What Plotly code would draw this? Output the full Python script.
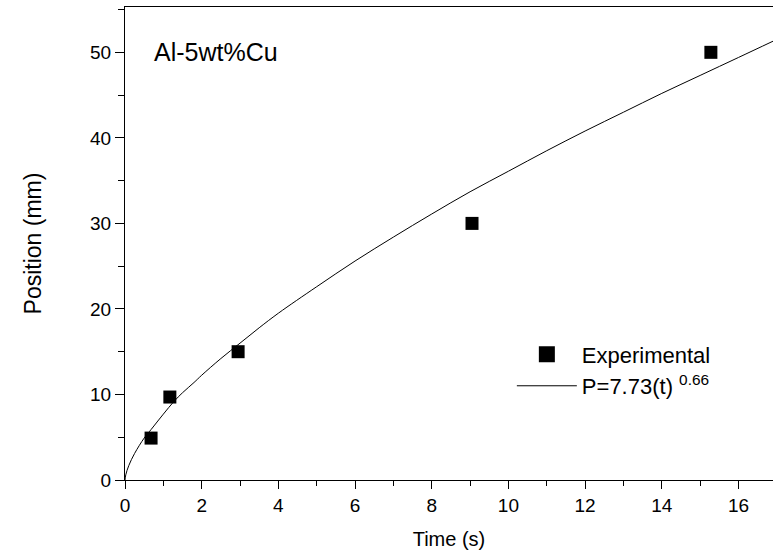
import plotly.graph_objects as go

exp_t = [0.68, 1.17, 2.95, 9.05, 15.28]
exp_p = [4.9, 9.7, 15.0, 30.0, 50.0]

# Fitted curve P=7.73(t)^0.66
fit_t = [0.0, 0.02, 0.1, 0.25, 0.5, 0.68, 1.0, 1.28, 1.5, 1.8, 2.0, 2.5, 3.0, 3.5, 4.0, 5.0, 6.0, 7.0,
         8.0, 9.0, 10.0, 11.0, 12.0, 13.0, 14.0, 15.0, 16.0, 16.9]
fit_p = [0.0, 0.6, 1.7, 3.1, 4.9, 5.9, 7.7, 9.2, 10.2, 11.4, 12.25, 14.2, 16.0, 17.8, 19.5, 22.6, 25.6, 28.4,
         31.1, 33.7, 36.1, 38.5, 40.8, 43.0, 45.2, 47.3, 49.4, 51.3]

FONT = "Liberation Sans, Arial, sans-serif"

fig = go.Figure()
fig.add_trace(go.Scatter(
    x=exp_t, y=exp_p, mode="markers", name="Experimental", showlegend=False,
    marker=dict(symbol="square", size=13, color="black"),
))
# legend proxy (bigger square in legend, as in the reference)
fig.add_trace(go.Scatter(
    x=[None], y=[None], mode="markers", name="Experimental",
    marker=dict(symbol="square", size=16, color="black"),
))
fig.add_trace(go.Scatter(
    x=fit_t, y=fit_p, mode="lines", name="P=7.73(t) <sup>0.66</sup>",
    line=dict(color="black", width=1, shape="spline"),
))

fig.update_layout(
    width=773, height=559,
    margin=dict(l=125, r=0, t=7, b=79),
    paper_bgcolor="white", plot_bgcolor="white",
    font=dict(family=FONT, size=19, color="black"),
    showlegend=True,
    legend=dict(x=0.597, y=0.31, xanchor="left", yanchor="top",
                font=dict(size=22, family=FONT), bgcolor="rgba(0,0,0,0)",
                itemwidth=60, tracegroupgap=0),
    xaxis=dict(
        range=[0, 16.9], showgrid=False, zeroline=False,
        showline=True, linecolor="black", linewidth=1, mirror=True,
        ticks="outside", ticklen=8, tickcolor="black", dtick=2, tick0=0,
        tickfont=dict(size=19),
        minor=dict(ticks="outside", ticklen=5, dtick=1, tick0=0, tickcolor="black"),
        title=dict(text="Time (s)", font=dict(size=20), standoff=17),
    ),
    yaxis=dict(
        range=[0, 55.3], showgrid=False, zeroline=False,
        showline=True, linecolor="black", linewidth=1,
        ticks="outside", ticklen=9, tickcolor="black", dtick=10, tick0=0,
        tickfont=dict(size=19),
        minor=dict(ticks="outside", ticklen=6, dtick=5, tick0=0, tickcolor="black"),
        title=dict(text="Position (mm)", font=dict(size=23), standoff=42),
    ),
    annotations=[dict(
        text="Al-5wt%Cu", x=0.042, y=50, xref="paper", yref="y",
        xanchor="left", yanchor="middle", showarrow=False,
        font=dict(size=25, family=FONT),
    )],
)

fig.write_html("out.html")
